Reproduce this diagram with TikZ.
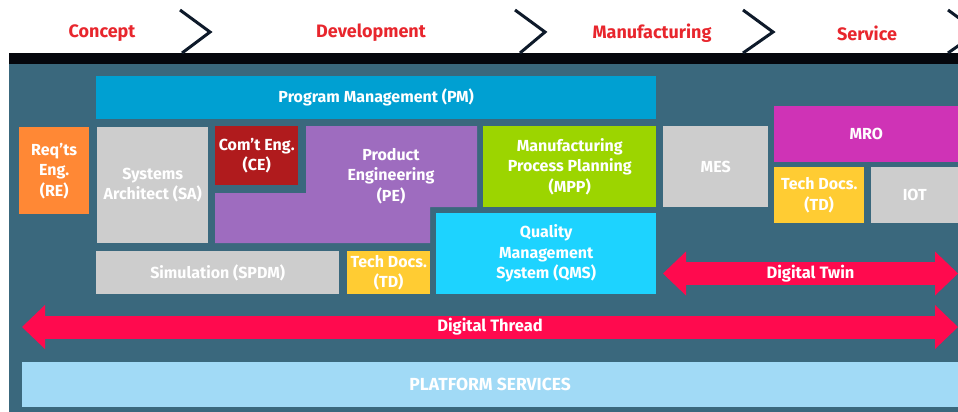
\documentclass[tikz,border=0pt]{standalone}
\usepackage{fontspec}
\setsansfont{Fira Sans}
\usetikzlibrary{arrows.meta,positioning}
\tikzstyle{every picture}+=[font=\sffamily]

\definecolor{bgteal}{HTML}{3A687D}
\definecolor{stripblack}{HTML}{05070D}
\definecolor{chevnavy}{HTML}{0E1A2A}
\definecolor{phasered}{HTML}{E8262D}
\definecolor{pmblue}{HTML}{00A0D2}
\definecolor{reorange}{HTML}{FF8835}
\definecolor{boxgray}{HTML}{CDCDCD}
\definecolor{cered}{HTML}{B01B1D}
\definecolor{pepurple}{HTML}{9E6CBF}
\definecolor{mppgreen}{HTML}{9CD500}
\definecolor{qmscyan}{HTML}{1DD3FF}
\definecolor{tdyellow}{HTML}{FFCC33}
\definecolor{mromagenta}{HTML}{CF33B6}
\definecolor{bandred}{HTML}{FF0A4E}
\definecolor{platblue}{HTML}{A1DAF6}

\begin{document}
\begin{tikzpicture}[x=1pt,y=-1pt,
    every node/.style={inner sep=0pt,align=center,text=white,font=\sffamily\bfseries\fontsize{16}{20.5}\selectfont},
    blk/.style={rectangle,anchor=north west},
    phase/.style={text=phasered,font=\sffamily\bfseries\fontsize{18}{20}\selectfont},
    chevron/.style={draw=chevnavy,line width=3pt,miter limit=10},
    band/.style={draw=bandred,line width=23pt,
      {Triangle[length=23pt,width=44pt,line width=0pt]}-{Triangle[length=23pt,width=44pt,line width=0pt]}}]
    \useasboundingbox (0,0) rectangle (958,412);
    % header and backdrop
    \fill[white] (0,0) rectangle (958,412);
    \fill[bgteal] (9,53) rectangle (958,412);
    \fill[stripblack] (9,53) rectangle (958,64);
    \draw[chevron] (180,10) -- (210,32) -- (182,53);
    \draw[chevron] (515,10) -- (545,32) -- (520,53);
    \draw[chevron] (743,10) -- (773,32) -- (743,53);
    \draw[chevron] (948,10) -- (978,32) -- (948,53);
    \node[phase] (concept) at (102,33) {Concept};
    \node[phase] (develop) at (371,33) {Development};
    \node[phase] (manuf) at (652,33) {Manufacturing};
    \node[phase] (service) at (867,33) {Service};
    % boxes
    \node[blk,fill=pmblue,minimum width=560,minimum height=43] (pm) at (96,76) {Program Management (PM)};
    \node[blk,fill=reorange,minimum width=70,minimum height=87] (re) at (19,127) {Req'ts\\Eng.\\(RE)};
    \node[blk,fill=boxgray,minimum width=111,minimum height=116] (sa) at (97,127) {Systems\\Architect (SA)};
    \node[blk,fill=cered,minimum width=83,minimum height=59] (ce) at (215,126) {Com't Eng.\\(CE)};
    \fill[pepurple] (306,126) -| (477,207) -| (430,243) -| (215,193) -| (306,126) -- cycle;
    \node (pe) at (391,176) {Product\\Engineering\\(PE)};
    \node[blk,fill=mppgreen,minimum width=173,minimum height=81] (mpp) at (483,126) {Manufacturing\\Process Planning\\(MPP)};
    \node[blk,fill=qmscyan,minimum width=220,minimum height=81] (qms) at (436,213) {Quality\\Management\\System (QMS)};
    \node[blk,fill=boxgray,minimum width=243,minimum height=43] (spdm) at (96,251) {Simulation (SPDM)};
    \node[blk,fill=tdyellow,minimum width=83,minimum height=43] (tddev) at (347,251) {Tech Docs.\\(TD)};
    \node[blk,fill=boxgray,minimum width=105,minimum height=81] (mes) at (663,126) {MES};
    \node[blk,fill=mromagenta,minimum width=184,minimum height=56] (mro) at (774,106) {MRO};
    \node[blk,fill=tdyellow,minimum width=90,minimum height=56] (tdsvc) at (774,167) {Tech Docs.\\(TD)};
    \node[blk,fill=boxgray,minimum width=87,minimum height=56] (iot) at (871,167) {IOT};
    % threads
    \coordinate (twinL) at (663,273.5);
    \coordinate (twinR) at (958,273.5);
    \coordinate (threadL) at (22,327);
    \coordinate (threadR) at (958,327);
    \draw[band] (twinL) -- node[font=\sffamily\bfseries\fontsize{16.5}{18}\selectfont] (twin) {Digital Twin} (twinR);
    \draw[band] (threadL) -- node[font=\sffamily\bfseries\fontsize{16.5}{18}\selectfont] (thread) {Digital Thread} (threadR);
    \node[blk,fill=platblue,minimum width=936,minimum height=45,font=\sffamily\bfseries\fontsize{17.5}{19}\selectfont] (platform) at (22,362) {PLATFORM SERVICES};
\end{tikzpicture}
\end{document}
